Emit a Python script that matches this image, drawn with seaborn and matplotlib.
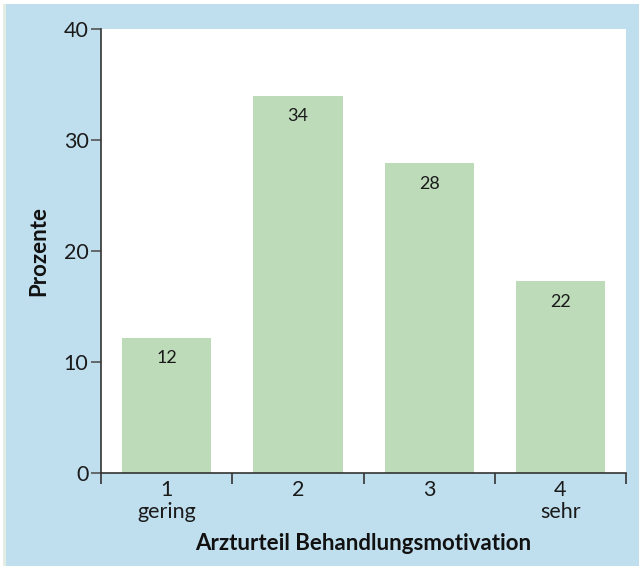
import matplotlib
matplotlib.use("Agg")
import matplotlib.pyplot as plt
from matplotlib.patches import Rectangle
import seaborn as sns
import pandas as pd
import numpy as np

categories = ["1\ngering", "2", "3", "4\nsehr"]
values = [12.2, 34.0, 27.9, 17.3]
bar_labels = ["12", "34", "28", "22"]
y_ticks = [0, 10, 20, 30, 40]

sns.set_theme(style="white")
plt.rcParams['font.family'] = ['Lato', 'DejaVu Sans']

bg = "#c0dfee"
fig = plt.figure(figsize=(6.39, 5.70), dpi=100, facecolor=bg)
# thin page edges
fig.patches.append(Rectangle((0, 1 - 4/570), 1, 4/570, transform=fig.transFigure, facecolor="white", edgecolor="none", zorder=0))
fig.patches.append(Rectangle((0, 0), 3/639, 1, transform=fig.transFigure, facecolor="white", edgecolor="none", zorder=0))
fig.patches.append(Rectangle((3/639, 0), 3/639, 1 - 4/570, transform=fig.transFigure, facecolor="#e3ede3", edgecolor="none", zorder=0))
fig.patches.append(Rectangle((0, 0), 1, 4/570, transform=fig.transFigure, facecolor="white", edgecolor="none", zorder=0))

ax = fig.add_axes([101/639, 1-473/570, (626-101)/639, (473-29)/570])
ax.set_facecolor("white")

df = pd.DataFrame({"cat": categories, "val": values})
sns.barplot(data=df, x="cat", y="val", color="#bddab9", saturation=1, width=0.68, ax=ax)
for p in ax.patches:
    p.set_edgecolor("none")

for i, (v, lab) in enumerate(zip(values, bar_labels)):
    ax.text(i, v - 1.85, lab, ha="center", va="center", fontsize=13, color="#1a1a1a")

ax.set_xlim(-0.5, 3.5)
ax.set_ylim(0, 40)
ax.set_yticks(y_ticks)
ax.set_yticklabels([str(t) for t in y_ticks], fontsize=15.5, color="#1a1a1a")

ax.set_xticks(np.arange(-0.5, 4.0, 1.0))
ax.set_xticklabels([])
ax.set_xticks(range(len(categories)), minor=True)
ax.set_xticklabels(categories, minor=True, fontsize=15.5, color="#1a1a1a", linespacing=1.1)
ax.tick_params(axis="x", which="minor", length=0, pad=5)
ax.tick_params(axis="x", which="major", direction="out", length=8, width=1.2, color="#333333", bottom=True)
ax.tick_params(axis="y", direction="out", length=7, width=1.2, color="#555555", left=True, pad=2)

for s in ["top", "right"]:
    ax.spines[s].set_visible(False)
for s in ["left", "bottom"]:
    ax.spines[s].set_color("#333333")
    ax.spines[s].set_linewidth(1.2)

ax.set_xlabel("Arzturteil Behandlungsmotivation", fontsize=16, fontweight="bold", color="#111111", labelpad=8)
ax.set_ylabel("Prozente", fontsize=16, fontweight="bold", color="#111111", labelpad=10)

fig.savefig("out.png", dpi=100, facecolor=bg)
